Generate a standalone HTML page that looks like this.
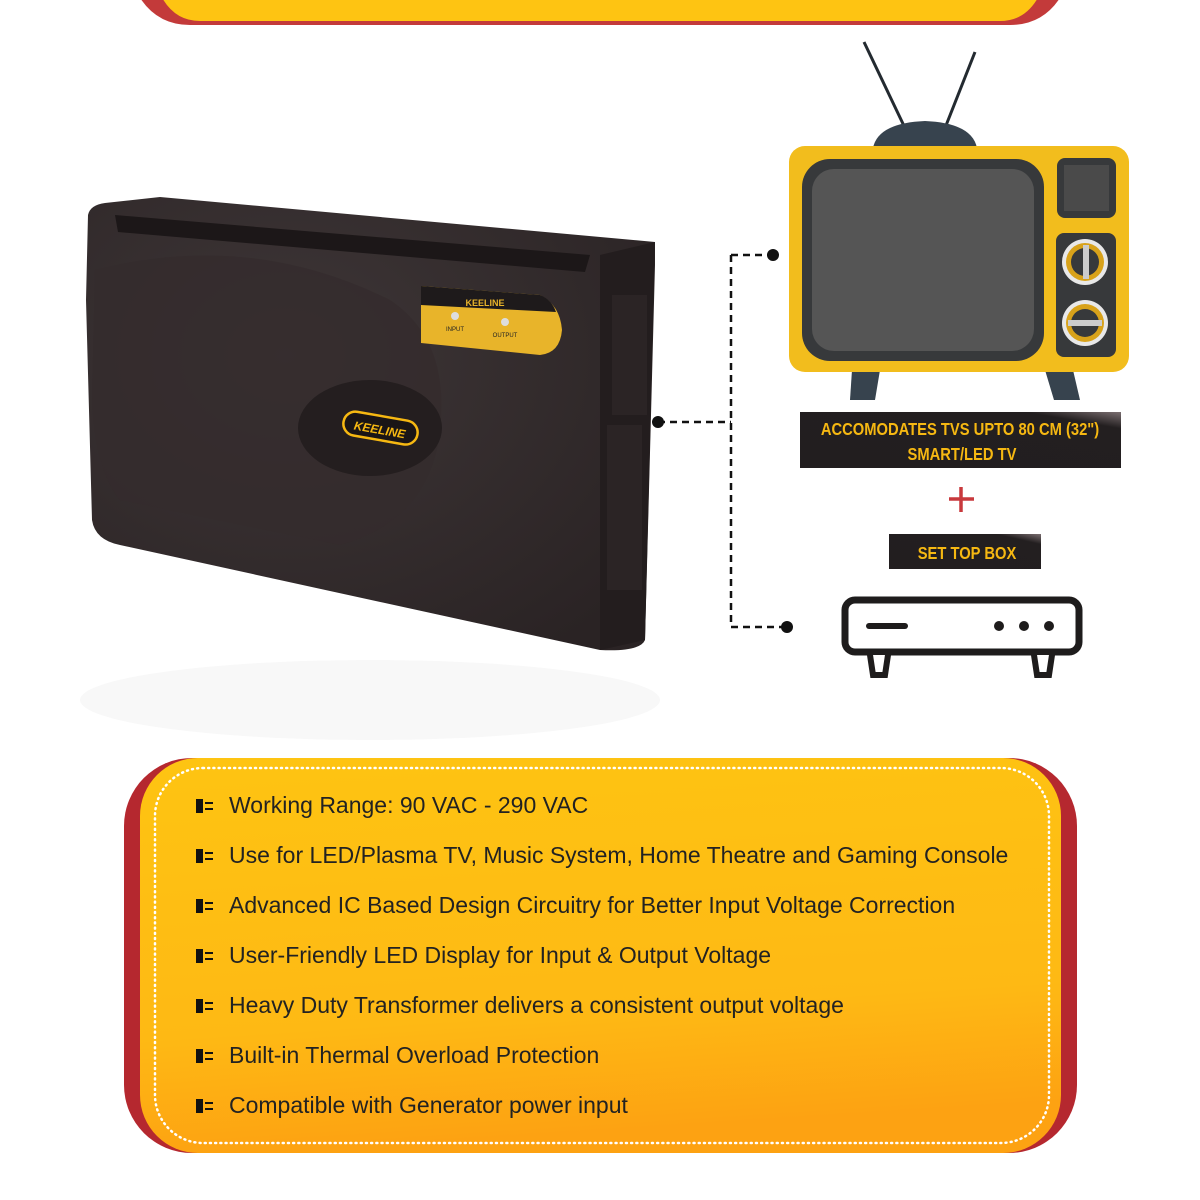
<!DOCTYPE html>
<html><head><meta charset="utf-8"><style>
html,body{margin:0;padding:0;background:#fff}
svg{display:block}
.c{font-family:"Liberation Sans Narrow","Liberation Sans",sans-serif;font-weight:bold;fill:#f6b812}
.b{font-family:"Liberation Sans",sans-serif;font-size:23px;fill:#222}
</style></head><body>
<svg width="1200" height="1200" viewBox="0 0 1200 1200" xmlns="http://www.w3.org/2000/svg">
<defs>
<linearGradient id="yg" x1="0" y1="0" x2="0.15" y2="1"><stop offset="0" stop-color="#fec412"/><stop offset="0.7" stop-color="#feb914"/><stop offset="1" stop-color="#fda212"/></linearGradient>
<linearGradient id="lb" x1="0" y1="1" x2="1" y2="0"><stop offset="0" stop-color="#221e1f"/><stop offset="0.85" stop-color="#231f20"/><stop offset="1" stop-color="#7a6e70"/></linearGradient>
<radialGradient id="dev" cx="0.35" cy="0.35" r="0.8"><stop offset="0" stop-color="#3e3637"/><stop offset="1" stop-color="#2a2324"/></radialGradient>
</defs>
<path d="M125,-40 H1075 V-40 Q1060,25 1010,25 H190 Q140,25 125,-40Z" fill="#c33a3a"/>
<path d="M150,-40 H1050 Q1040,21 1000,21 H200 Q160,21 150,-40Z" fill="#fec412"/>

<ellipse cx="370" cy="700" rx="290" ry="40" fill="#f8f8f8"/>
<path d="M88,215 Q90,205 105,203 L160,197 L655,242 L655,265 L645,640 Q640,652 600,650 L120,545 Q95,540 92,520 L86,300Z" fill="url(#dev)"/>
<path d="M600,255 L655,242 L645,640 L600,650Z" fill="#231d1e"/>
<rect x="612" y="295" width="35" height="120" fill="#2b2425"/>
<rect x="607" y="425" width="35" height="165" fill="#2b2425"/>
<path d="M115,215 L590,255 L585,272 L118,232Z" fill="#1c1718"/>
<path d="M95,270 Q250,230 390,300 Q450,340 440,430 Q430,520 340,545 L120,500 Q95,470 92,400Z" fill="#342c2d" opacity="0.8"/>
<ellipse cx="370" cy="428" rx="72" ry="48" fill="#241e1f"/>
<rect x="343" y="416" width="75" height="24" rx="12" transform="rotate(10 380 428)" fill="#1a1516" stroke="#f6b812" stroke-width="2.5"/>
<text x="380" y="434" font-family="Liberation Sans" font-weight="bold" font-style="italic" font-size="12" fill="#f6b812" text-anchor="middle" transform="rotate(10 380 428)">KEELINE</text>
<path d="M421,286 L540,295 Q560,305 562,330 Q560,353 540,355 L421,343Z" fill="#e8b42a"/>
<path d="M421,286 L540,295 Q552,300 556,312 L421,305Z" fill="#1e1a1b"/>
<text x="485" y="306" font-family="Liberation Sans" font-weight="bold" font-size="9" fill="#e8b42a" text-anchor="middle">KEELINE</text>
<text x="455" y="331" font-family="Liberation Sans" font-size="6" fill="#222" text-anchor="middle">INPUT</text>
<text x="505" y="337" font-family="Liberation Sans" font-size="6" fill="#222" text-anchor="middle">OUTPUT</text>
<circle cx="455" cy="316" r="4" fill="#ddd"/><circle cx="505" cy="322" r="4" fill="#ddd"/>

<g stroke="#111" stroke-width="2.5" stroke-dasharray="7,5" fill="none">
<path d="M658,422 H731"/><path d="M731,255 V627"/><path d="M731,255 H773"/><path d="M731,627 H787"/>
</g>
<circle cx="658" cy="422" r="6" fill="#111"/><circle cx="773" cy="255" r="6" fill="#111"/><circle cx="787" cy="627" r="6" fill="#111"/>

<line x1="864" y1="42" x2="905" y2="128" stroke="#232a30" stroke-width="3"/>
<line x1="975" y1="52" x2="945" y2="128" stroke="#232a30" stroke-width="3"/>
<path d="M873,148 Q878,123 925,121 Q972,123 977,148Z" fill="#37434e"/>
<path d="M852,370 L880,370 L875,400 L850,400Z" fill="#37434e"/>
<path d="M1045,370 L1073,370 L1080,400 L1054,400Z" fill="#37434e"/>
<rect x="789" y="146" width="340" height="226" rx="16" fill="#f2bd1d"/>
<rect x="802" y="159" width="242" height="202" rx="28" fill="#37393b"/>
<rect x="812" y="169" width="222" height="182" rx="22" fill="#555555"/>
<rect x="1057" y="158" width="59" height="60" rx="8" fill="#37393b"/>
<rect x="1064" y="165" width="45" height="46" fill="#4a4a4a"/>
<rect x="1056" y="233" width="60" height="124" rx="8" fill="#37393b"/>
<circle cx="1085" cy="262" r="23" fill="#e8e8e8"/><circle cx="1085" cy="262" r="19" fill="#d8a21a"/><circle cx="1085" cy="262" r="14" fill="#37393b"/><rect x="1083" y="245" width="6" height="34" fill="#ccc"/>
<circle cx="1085" cy="323" r="23" fill="#e8e8e8"/><circle cx="1085" cy="323" r="19" fill="#d8a21a"/><circle cx="1085" cy="323" r="14" fill="#37393b"/><rect x="1068" y="320" width="34" height="6" fill="#ccc"/>

<rect x="800" y="412" width="321" height="56" fill="url(#lb)"/>
<text class="c" font-size="18" x="960" y="435" text-anchor="middle" transform="translate(960 0) scale(0.82 1) translate(-960 0)">ACCOMODATES TVS UPTO 80 CM (32")</text>
<text class="c" font-size="18" x="962" y="460" text-anchor="middle" transform="translate(962 0) scale(0.82 1) translate(-962 0)">SMART/LED TV</text>
<path d="M949,499 H974 M961,487 V512" stroke="#c8393d" stroke-width="3.5"/>
<rect x="889" y="534" width="152" height="35" fill="url(#lb)"/>
<text class="c" font-size="18" x="967" y="559" text-anchor="middle" transform="translate(967 0) scale(0.82 1) translate(-967 0)">SET TOP BOX</text>

<rect x="845" y="600" width="234" height="52" rx="10" fill="#fff" stroke="#1e1c1c" stroke-width="7"/>
<path d="M869,626 H905" stroke="#1e1c1c" stroke-width="6" stroke-linecap="round"/>
<circle cx="999" cy="626" r="5" fill="#1e1c1c"/><circle cx="1024" cy="626" r="5" fill="#1e1c1c"/><circle cx="1049" cy="626" r="5" fill="#1e1c1c"/>
<path d="M870,655 L873,675 H885 L888,655" fill="#fff" stroke="#1e1c1c" stroke-width="6"/>
<path d="M1034,655 L1037,675 H1049 L1052,655" fill="#fff" stroke="#1e1c1c" stroke-width="6"/>

<rect x="124" y="758" width="953" height="395" rx="68" fill="#b5282f"/>
<rect x="140" y="758" width="921" height="395" rx="58" fill="url(#yg)"/>
<rect x="155" y="768" width="894" height="375" rx="48" fill="none" stroke="#fff" stroke-width="2.5" stroke-dasharray="1,4.2" stroke-linecap="round"/>
<g>
<g id="bl"><rect x="196" y="799" width="7" height="14" fill="#111"/><rect x="205" y="802" width="8" height="2" fill="#111"/><rect x="205" y="808" width="8" height="2" fill="#111"/></g>
<use href="#bl" y="50"/><use href="#bl" y="100"/><use href="#bl" y="150"/><use href="#bl" y="200"/><use href="#bl" y="250"/><use href="#bl" y="300"/>
</g>
<text class="b" x="229" y="813">Working Range: 90 VAC - 290 VAC</text>
<text class="b" x="229" y="863">Use for LED/Plasma TV, Music System, Home Theatre and Gaming Console</text>
<text class="b" x="229" y="913">Advanced IC Based Design Circuitry for Better Input Voltage Correction</text>
<text class="b" x="229" y="963">User-Friendly LED Display for Input &amp; Output Voltage</text>
<text class="b" x="229" y="1013">Heavy Duty Transformer delivers a consistent output voltage</text>
<text class="b" x="229" y="1063">Built-in Thermal Overload Protection</text>
<text class="b" x="229" y="1113">Compatible with Generator power input</text>
</svg>
</body></html>
